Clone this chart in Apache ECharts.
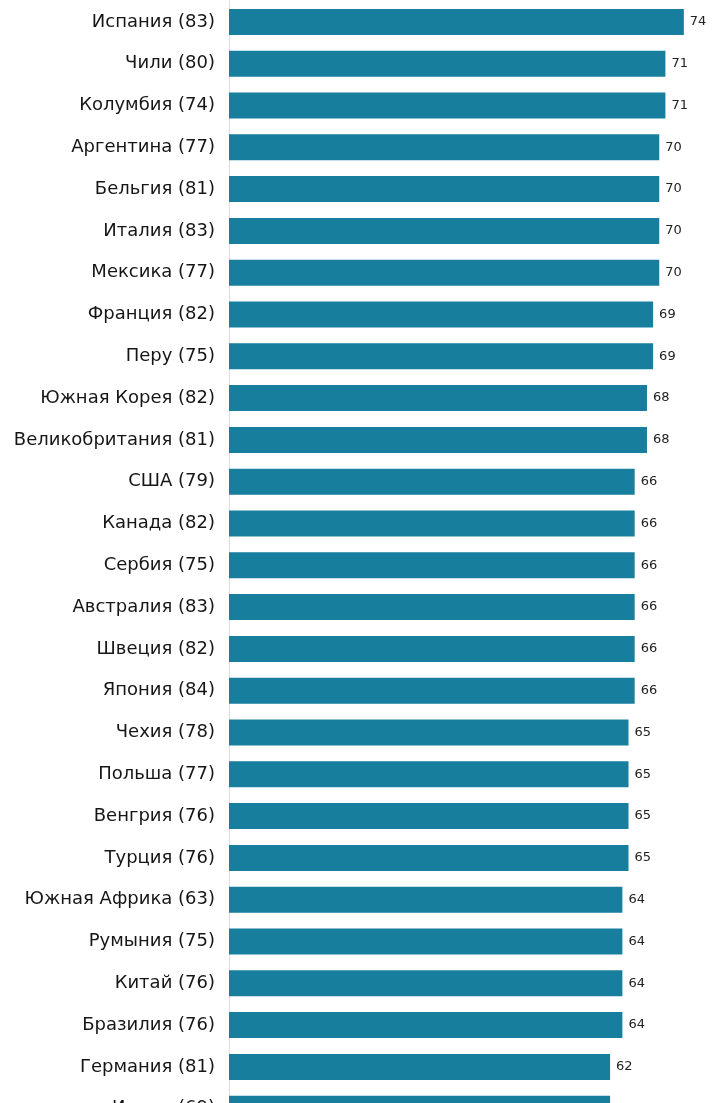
<!DOCTYPE html>
<html>
<head>
<meta charset="utf-8">
<script src="https://cdn.jsdelivr.net/npm/echarts@6/dist/echarts.min.js"></script>
<style>
html,body{margin:0;padding:0;background:#fff;overflow:hidden;}
#c{width:714px;height:1130px;}
</style>
</head>
<body>
<div id="c"></div>
<script>
var categories = [
  "Испания (83)", "Чили (80)", "Колумбия (74)", "Аргентина (77)", "Бельгия (81)",
  "Италия (83)", "Мексика (77)", "Франция (82)", "Перу (75)", "Южная Корея (82)",
  "Великобритания (81)", "США (79)", "Канада (82)", "Сербия (75)", "Австралия (83)",
  "Швеция (82)", "Япония (84)", "Чехия (78)", "Польша (77)", "Венгрия (76)",
  "Турция (76)", "Южная Африка (63)", "Румыния (75)", "Китай (76)", "Бразилия (76)",
  "Германия (81)", "Индия (69)"
];
var values = [
  74, 71, 71, 70, 70,
  70, 70, 69, 69, 68,
  68, 66, 66, 66, 66,
  66, 66, 65, 65, 65,
  65, 64, 64, 64, 64,
  62, 62
];

var chart = echarts.init(document.getElementById('c'), null, {renderer: 'canvas'});
chart.setOption({
  animation: false,
  backgroundColor: '#ffffff',
  grid: {left: 229, top: 1, height: 1128.6, width: 461, containLabel: false},
  xAxis: {
    type: 'value', min: 0, max: 75, show: false
  },
  yAxis: {
    type: 'category',
    data: categories,
    inverse: true,
    axisLine: {show: true, lineStyle: {color: '#dcdcdc', width: 1}},
    axisTick: {show: false},
    axisLabel: {
      margin: 14, fontSize: 18, color: '#161616',
      fontFamily: 'DejaVu Sans, sans-serif'
    },
    splitLine: {show: false}
  },
  series: [{
    type: 'bar',
    data: values,
    barWidth: 26,
    itemStyle: {color: '#187e9e'},
    label: {
      show: true, position: 'right', distance: 6,
      fontSize: 13, color: '#222222',
      fontFamily: 'DejaVu Sans, sans-serif'
    }
  }]
});
</script>
</body>
</html>
